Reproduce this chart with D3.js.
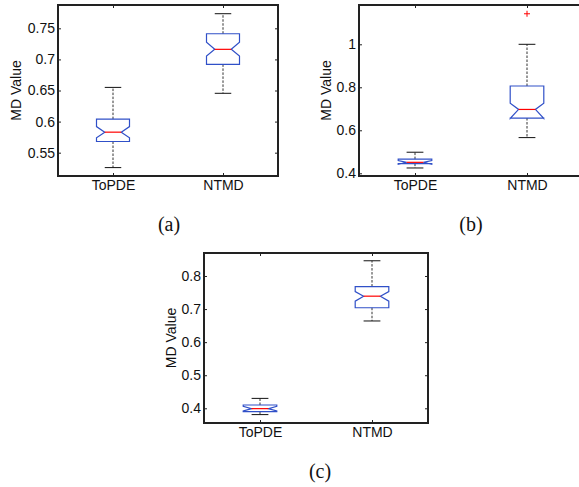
<!DOCTYPE html>
<html>
<head>
<meta charset="utf-8">
<script src="https://cdn.jsdelivr.net/npm/d3@7"></script>
<style>
  body { margin: 0; background: #fff; }
  svg text { font-family: "Liberation Sans", Arial, sans-serif; fill: #111; }
  svg text.caption { font-family: "Liberation Serif", "Times New Roman", serif; }
</style>
</head>
<body>
<div id="graphic"></div>
<script>
const WIDTH = 579;
const HEIGHT = 487;
const CATEGORIES = ["ToPDE", "NTMD"];
const BOX_HALF = 0.15;
const NOTCH_HALF = 0.075;
const TICK_LEN = 3;

// box stats per category: [lower whisker, q1, median, q3, upper whisker, notch low, notch high]
const STATS_A = [
  [0.526, 0.568, 0.583, 0.604, 0.655, 0.574, 0.592],
  [0.6455, 0.692, 0.7162, 0.7413, 0.7735, 0.7055, 0.7275]
];
const OUTLIERS_A = [[], []];
const TICKS_A = [0.55, 0.6, 0.65, 0.7, 0.75];

const STATS_B = [
  [0.4247, 0.445, 0.451, 0.466, 0.498, 0.442, 0.459],
  [0.566, 0.657, 0.697, 0.806, 1.0, 0.655, 0.726]
];
const OUTLIERS_B = [[], [1.142]];
const TICKS_B = [0.4, 0.6, 0.8, 1];

const STATS_C = [
  [0.381, 0.39, 0.399, 0.41, 0.43, 0.392, 0.406],
  [0.664, 0.704, 0.739, 0.768, 0.846, 0.724, 0.753]
];
const OUTLIERS_C = [[], []];
const TICKS_C = [0.4, 0.5, 0.6, 0.7, 0.8];

const PANELS = [
  { left: 58, top: 5, width: 220, height: 171, domain: [0.5125, 0.7875], ticks: TICKS_A,
    stats: STATS_A, outliers: OUTLIERS_A, labelOffset: 37, caption: "(a)", capX: 169, capY: 231 },
  { left: 359, top: 5, width: 224, height: 171, domain: [0.3874, 1.1828], ticks: TICKS_B,
    stats: STATS_B, outliers: OUTLIERS_B, labelOffset: 28.5, caption: "(b)", capX: 471, capY: 231 },
  { left: 204, top: 253, width: 224, height: 170, domain: [0.3556, 0.8695], ticks: TICKS_C,
    stats: STATS_C, outliers: OUTLIERS_C, labelOffset: 28.3, caption: "(c)", capX: 320, capY: 478 }
];

var svg = d3.select("#graphic")
  .append("svg")
  .attr("width", WIDTH)
  .attr("height", HEIGHT);

function renderPanel(p) {
  var g = svg.append("g")
    .attr("transform", `translate(${p.left}, ${p.top})`);

  var xScale = d3.scaleLinear()
    .domain([0.5, 2.5])
    .range([0, p.width]);
  var yScale = d3.scaleLinear()
    .domain(p.domain)
    .range([p.height, 0]);

  var yAxisDef = d3.axisLeft(yScale)
    .tickValues(p.ticks)
    .tickFormat(d3.format("~g"))
    .tickSizeInner(-TICK_LEN)
    .tickSizeOuter(0)
    .tickPadding(3);
  var xAxisDef = d3.axisBottom(xScale)
    .tickValues([1, 2])
    .tickFormat((d, i) => CATEGORIES[i])
    .tickSizeInner(-TICK_LEN)
    .tickSizeOuter(0)
    .tickPadding(4);

  var yAxis = g.append("g").call(yAxisDef);
  var xAxis = g.append("g")
    .attr("transform", `translate(0, ${p.height})`)
    .call(xAxisDef);
  var yRight = g.append("g")
    .attr("transform", `translate(${p.width}, 0)`)
    .call(d3.axisRight(yScale).tickValues(p.ticks).tickFormat("").tickSizeInner(-TICK_LEN).tickSizeOuter(0));
  var xTop = g.append("g")
    .call(d3.axisTop(xScale).tickValues([1, 2]).tickFormat("").tickSizeInner(-TICK_LEN).tickSizeOuter(0));

  [yAxis, xAxis, yRight, xTop].forEach(a => {
    a.select(".domain").remove();
    a.selectAll("line").attr("stroke", "#222");
    a.selectAll("text")
      .attr("font-size", 14)
      .attr("fill", "#111");
  });

  g.append("rect")
    .attr("width", p.width)
    .attr("height", p.height)
    .attr("fill", "none")
    .attr("stroke", "#222")
    .attr("stroke-width", 2);

  g.append("text")
    .attr("transform", `translate(${-p.labelOffset}, ${p.height / 2}) rotate(-90)`)
    .attr("text-anchor", "middle")
    .attr("font-size", 14)
    .text("MD Value");

  p.stats.forEach((s, i) => {
    var cx = i + 1;
    var lo = s[0], q1 = s[1], med = s[2], q3 = s[3], hi = s[4], nlo = s[5], nhi = s[6];
    var x = xScale(cx);
    var w = xScale(cx + BOX_HALF) - x;
    var nw = xScale(cx + NOTCH_HALF) - x;

    // whiskers + caps
    [[q3, hi], [q1, lo]].forEach(seg => {
      g.append("line")
        .attr("x1", x).attr("x2", x)
        .attr("y1", yScale(seg[0])).attr("y2", yScale(seg[1]))
        .attr("stroke", "#333")
        .attr("stroke-dasharray", "2.5,1.5");
      g.append("line")
        .attr("x1", x - nw).attr("x2", x + nw)
        .attr("y1", yScale(seg[1])).attr("y2", yScale(seg[1]))
        .attr("stroke", "#111");
    });

    // notched box
    var pts = [
      [x - w, yScale(q1)], [x - w, yScale(nlo)], [x - nw, yScale(med)], [x - w, yScale(nhi)],
      [x - w, yScale(q3)], [x + w, yScale(q3)], [x + w, yScale(nhi)], [x + nw, yScale(med)],
      [x + w, yScale(nlo)], [x + w, yScale(q1)]
    ];
    g.append("path")
      .attr("d", d3.line()(pts) + "Z")
      .attr("fill", "none")
      .attr("stroke", "#3050c8")
      .attr("stroke-width", 1.2);

    g.append("line")
      .attr("x1", x - nw).attr("x2", x + nw)
      .attr("y1", yScale(med)).attr("y2", yScale(med))
      .attr("stroke", "#f00")
      .attr("stroke-width", 1.2);

    p.outliers[i].forEach(v => {
      var y = yScale(v);
      g.append("path")
        .attr("d", `M${x - 3},${y}H${x + 3}M${x},${y - 3}V${y + 3}`)
        .attr("stroke", "#f00")
        .attr("stroke-width", 1);
    });
  });

  svg.append("text")
    .attr("class", "caption")
    .attr("x", p.capX)
    .attr("y", p.capY)
    .attr("text-anchor", "middle")
    .attr("font-size", 20)
    .text(p.caption);
}

PANELS.forEach(renderPanel);
</script>
</body>
</html>
